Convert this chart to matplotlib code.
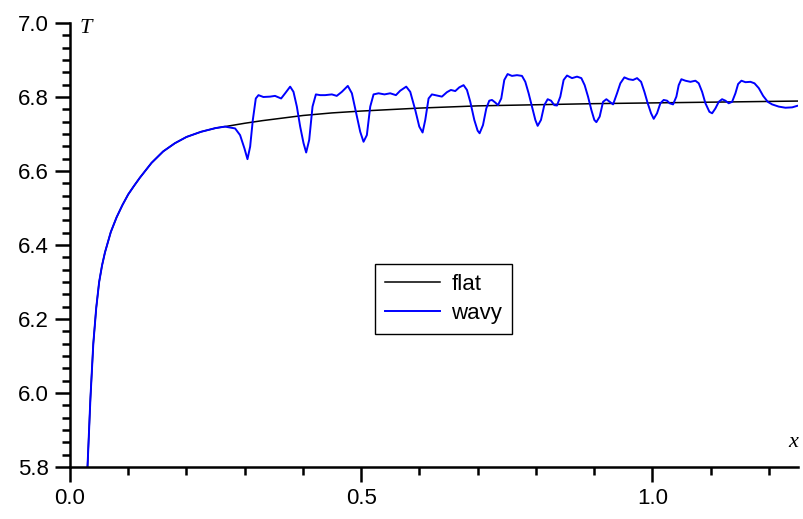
import matplotlib
matplotlib.use("Agg")
import matplotlib.pyplot as plt
from matplotlib.ticker import MultipleLocator, FormatStrFormatter

# flat plate curve
x_flat = [0.030, 0.035, 0.040, 0.045, 0.050, 0.055, 0.060, 0.070, 0.080, 0.090,
          0.100, 0.110, 0.120, 0.140, 0.160, 0.180, 0.200, 0.225, 0.250, 0.270,
          0.300, 0.330, 0.360, 0.400, 0.450, 0.500, 0.550, 0.600, 0.700, 0.800,
          0.900, 1.000, 1.100, 1.200, 1.250]
T_flat = [5.800, 5.985, 6.134, 6.230, 6.300, 6.345, 6.380, 6.435, 6.475, 6.508,
          6.537, 6.560, 6.582, 6.622, 6.653, 6.675, 6.692, 6.706, 6.716, 6.721,
          6.729, 6.736, 6.742, 6.750, 6.757, 6.762, 6.766, 6.770, 6.776, 6.779,
          6.782, 6.784, 6.786, 6.788, 6.789]

# wavy wall curve
x_wavy = [0.030, 0.035, 0.040, 0.045, 0.050, 0.055, 0.060, 0.070, 0.080, 0.090,
          0.100, 0.110, 0.120, 0.140, 0.160, 0.180, 0.200, 0.225, 0.250, 0.266,
          0.2835, 0.292, 0.2995, 0.3047, 0.3093, 0.3139, 0.319, 0.3236, 0.332, 0.3436,
          0.352, 0.3625, 0.3694, 0.378, 0.3837, 0.3895, 0.3952, 0.401, 0.4055, 0.4107,
          0.4164, 0.4222, 0.4296, 0.438, 0.4496, 0.458, 0.4668, 0.477, 0.484, 0.4914,
          0.4983, 0.504, 0.5097, 0.5155, 0.5212, 0.5298, 0.540, 0.5498, 0.5596, 0.567,
          0.5773, 0.5842, 0.5928, 0.5997, 0.6054, 0.610, 0.6157, 0.6214, 0.630, 0.6386,
          0.6472, 0.654, 0.6615, 0.6684, 0.6758, 0.6816, 0.6873, 0.6942, 0.6999, 0.7033,
          0.7091, 0.7148, 0.7199, 0.7246, 0.7302, 0.7349, 0.7405, 0.7457, 0.7514, 0.7589,
          0.7675, 0.7761, 0.7818, 0.7875, 0.7933, 0.799, 0.803, 0.8087, 0.8144, 0.8202,
          0.826, 0.8316, 0.8362, 0.8419, 0.8476, 0.8534, 0.862, 0.8706, 0.878, 0.8837,
          0.8895, 0.8952, 0.9003, 0.9038, 0.9095, 0.9153, 0.921, 0.9266, 0.9325, 0.9393,
          0.945, 0.9519, 0.9593, 0.9668, 0.9737, 0.9806, 0.9863, 0.992, 0.9977, 1.0023,
          1.008, 1.0137, 1.0194, 1.0252, 1.0297, 1.0355, 1.0412, 1.0452, 1.0498, 1.0567,
          1.0653, 1.0739, 1.0796, 1.0854, 1.0911, 1.0979, 1.1026, 1.1082, 1.114, 1.1197,
          1.1254, 1.1311, 1.1369, 1.1426, 1.1472, 1.1529, 1.1598, 1.1684, 1.1753, 1.1827,
          1.1902, 1.1981, 1.2056, 1.217, 1.2285, 1.240, 1.2486]
T_wavy = [5.800, 5.985, 6.134, 6.230, 6.300, 6.345, 6.380, 6.435, 6.475, 6.508,
          6.537, 6.560, 6.582, 6.622, 6.653, 6.675, 6.692, 6.706, 6.716, 6.720,
          6.715, 6.697, 6.661, 6.632, 6.666, 6.738, 6.796, 6.805, 6.800, 6.801,
          6.803, 6.796, 6.810, 6.828, 6.814, 6.774, 6.720, 6.675, 6.650, 6.684,
          6.774, 6.807, 6.805, 6.805, 6.807, 6.803, 6.814, 6.830, 6.810, 6.756,
          6.706, 6.679, 6.697, 6.774, 6.807, 6.810, 6.807, 6.810, 6.805, 6.817,
          6.828, 6.814, 6.765, 6.720, 6.704, 6.738, 6.796, 6.807, 6.804, 6.801,
          6.813, 6.819, 6.816, 6.826, 6.832, 6.819, 6.787, 6.738, 6.709, 6.702,
          6.724, 6.769, 6.790, 6.792, 6.785, 6.778, 6.796, 6.846, 6.862, 6.857,
          6.859, 6.857, 6.841, 6.810, 6.774, 6.738, 6.722, 6.738, 6.778, 6.794,
          6.790, 6.778, 6.777, 6.801, 6.846, 6.858, 6.851, 6.855, 6.851, 6.832,
          6.801, 6.765, 6.738, 6.732, 6.747, 6.787, 6.794, 6.787, 6.780, 6.810,
          6.837, 6.853, 6.848, 6.846, 6.851, 6.841, 6.814, 6.783, 6.756, 6.741,
          6.756, 6.783, 6.792, 6.790, 6.783, 6.780, 6.801, 6.832, 6.848, 6.844,
          6.841, 6.844, 6.837, 6.814, 6.783, 6.760, 6.756, 6.769, 6.787, 6.794,
          6.790, 6.783, 6.787, 6.810, 6.835, 6.844, 6.840, 6.841, 6.837, 6.824,
          6.803, 6.787, 6.780, 6.774, 6.771, 6.772, 6.776]

fig = plt.figure(figsize=(8.04, 5.19), dpi=100)
ax = fig.add_axes([0.0871, 0.1002, 0.9054, 0.8555])

ax.plot(x_flat, T_flat, color='black', lw=1.1, label='flat')
ax.plot(x_wavy, T_wavy, color='#0000ff', lw=1.4, label='wavy')

ax.set_xlim(0, 1.25)
ax.set_ylim(5.8, 7.0)

for s in ['top', 'right']:
    ax.spines[s].set_visible(False)
for s in ['left', 'bottom']:
    ax.spines[s].set_linewidth(1.8)

ax.xaxis.set_major_locator(MultipleLocator(0.5))
ax.xaxis.set_minor_locator(MultipleLocator(0.1))
ax.yaxis.set_major_locator(MultipleLocator(0.2))
ax.yaxis.set_minor_locator(MultipleLocator(0.2 / 6))
ax.xaxis.set_major_formatter(FormatStrFormatter('%.1f'))
ax.yaxis.set_major_formatter(FormatStrFormatter('%.1f'))

ax.tick_params(which='major', direction='out', length=11, width=1.8,
               labelsize=16, pad=4)
ax.tick_params(which='minor', direction='out', length=6, width=1.8)
for lab in ax.get_xticklabels() + ax.get_yticklabels():
    lab.set_family('Liberation Sans')

ax.text(0.017, 6.985, 'T', fontsize=16, style='italic', family='Liberation Serif',
        ha='left', va='center')
ax.text(1.25, 5.865, 'x', fontsize=16, style='italic', family='Liberation Serif',
        ha='right', va='center')

leg = ax.legend(loc='center', bbox_to_anchor=(0.513, 0.378), fancybox=False,
                framealpha=1, edgecolor='black', borderpad=0.45, handlelength=2.5,
                handletextpad=0.5, labelspacing=0.35, borderaxespad=0,
                prop={'family': 'Liberation Sans', 'size': 16})
leg.get_frame().set_linewidth(1.0)

fig.savefig('out.png', dpi=100)
